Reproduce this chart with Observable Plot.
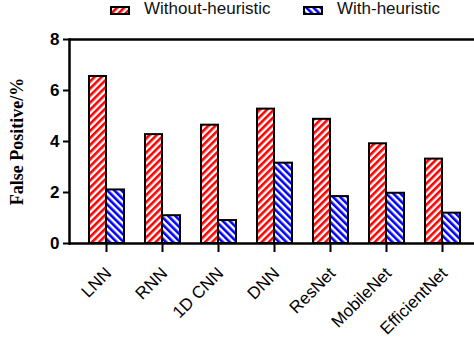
<!DOCTYPE html>
<html>
<head>
<meta charset="utf-8">
<script src="https://cdn.jsdelivr.net/npm/d3@7"></script>
<script src="https://cdn.jsdelivr.net/npm/@observablehq/plot@0.6"></script>
<style>
  html, body { margin: 0; padding: 0; background: #fff; }
  #wrap { position: relative; width: 474px; height: 341px; font-family: Arial, "Liberation Sans", sans-serif; }
  #legend { position: absolute; left: 0; top: 0; width: 474px; height: 24px; }
  #legend .sw { position: absolute; top: 6px; width: 20px; height: 9px; }
  #legend .lab { position: absolute; top: -1px; font-size: 17px; color: #111; white-space: nowrap; }
</style>
</head>
<body>
<svg width="0" height="0" style="position:absolute">
  <defs>
    <pattern id="hatchRed" patternUnits="userSpaceOnUse" width="5" height="5" patternTransform="rotate(45)">
      <rect width="5" height="5" fill="#fff"/>
      <rect width="2.6" height="5" fill="#ff0000"/>
    </pattern>
    <pattern id="hatchBlue" patternUnits="userSpaceOnUse" width="5" height="5" patternTransform="rotate(-45)">
      <rect width="5" height="5" fill="#fff"/>
      <rect width="2.6" height="5" fill="#0000ff"/>
    </pattern>
  </defs>
</svg>
<div id="wrap">
  <div id="legend"></div>
  <div id="chart"></div>
</div>
<script>
const categories = ["LNN", "RNN", "1D CNN", "DNN", "ResNet", "MobileNet", "EfficientNet"];
const withoutHeuristic = [6.55, 4.27, 4.64, 5.27, 4.87, 3.91, 3.31];
const withHeuristic = [2.10, 1.09, 0.90, 3.15, 1.84, 1.97, 1.19];
const seriesNames = ["Without-heuristic", "With-heuristic"];
const yTicks = [0, 2, 4, 6, 8];
const yLabel = "False Positive/%";

const rows = categories.map((c, i) => ({cat: c, without: withoutHeuristic[i], with: withHeuristic[i]}));

const chart = Plot.plot({
  width: 474,
  height: 341,
  marginLeft: 69,
  marginRight: 0,
  marginTop: 39,
  marginBottom: 98,
  style: {fontFamily: 'Arial, "Liberation Sans", sans-serif', color: "#000", background: "transparent"},
  x: {domain: categories, range: [78, 470], padding: 0, label: null},
  y: {domain: [0, 8], label: null},
  marks: [
    Plot.barY(rows, {x: "cat", y: "without", fill: "url(#hatchRed)", stroke: "#000", strokeWidth: 2, insetLeft: 11, insetRight: 28}),
    Plot.barY(rows, {x: "cat", y: "with", fill: "url(#hatchBlue)", stroke: "#000", strokeWidth: 2, insetLeft: 28, insetRight: 10}),
    Plot.ruleY([0, 8], {stroke: "#000", strokeWidth: 2.5}),
    Plot.frame({anchor: "left", stroke: "#000", strokeWidth: 2.5}),
    Plot.axisY({ticks: yTicks, tickSize: 6, tickPadding: 4, tickFormat: d => d, fontSize: 17, fontWeight: "bold", strokeWidth: 2, label: null}),
    Plot.axisX({tickSize: 9, strokeWidth: 2, text: null, label: null}),
    Plot.axisX({tickSize: 0, tickPadding: 27, tickRotate: -45, dx: 2, fontSize: 17, label: null}),
    Plot.text([yLabel], {frameAnchor: "left", textAnchor: "middle", rotate: -90, dx: -52, fontSize: 18, fontWeight: "bold", fontFamily: '"Times New Roman", "Liberation Serif", serif', fill: "#000"})
  ]
});
document.getElementById("chart").appendChild(chart);

const legend = document.getElementById("legend");
const fills = ["url(#hatchRed)", "url(#hatchBlue)"];
const swX = [110, 303];
const labX = [144, 337];
seriesNames.forEach((name, i) => {
  const ns = "http://www.w3.org/2000/svg";
  const s = document.createElementNS(ns, "svg");
  s.setAttribute("class", "sw");
  s.setAttribute("width", 20); s.setAttribute("height", 9);
  s.style.left = swX[i] + "px";
  const r = document.createElementNS(ns, "rect");
  r.setAttribute("x", 1); r.setAttribute("y", 1); r.setAttribute("width", 18); r.setAttribute("height", 7);
  r.setAttribute("fill", fills[i]); r.setAttribute("stroke", "#000"); r.setAttribute("stroke-width", 2);
  s.appendChild(r);
  legend.appendChild(s);
  const t = document.createElement("span");
  t.className = "lab";
  t.style.left = labX[i] + "px";
  t.textContent = name;
  legend.appendChild(t);
});
</script>
</body>
</html>
